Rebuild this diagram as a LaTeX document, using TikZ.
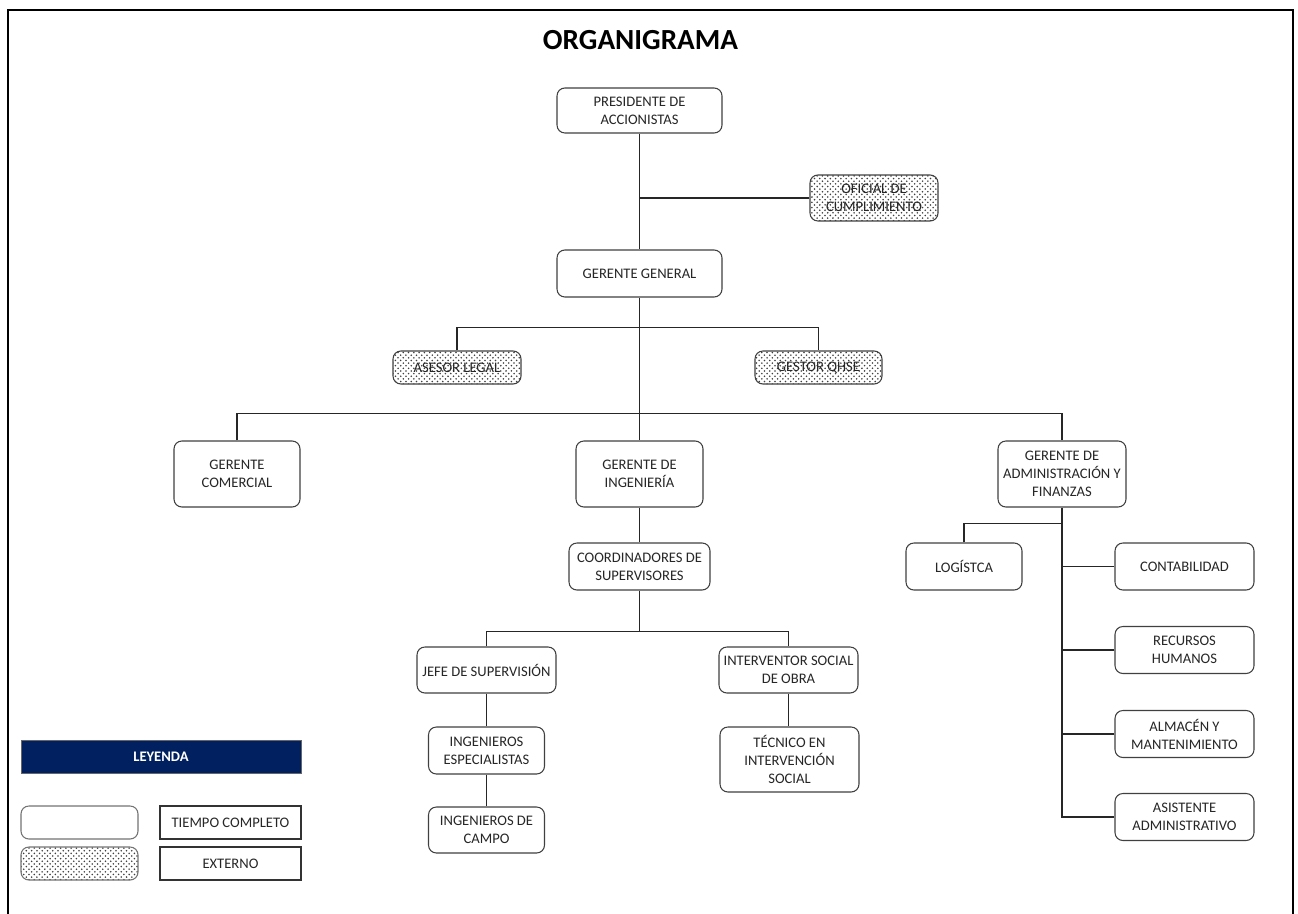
\documentclass[tikz,border=0pt]{standalone}
\usepackage{fontspec}
\setmainfont{Carlito}
\usepackage{tikz}
\usetikzlibrary{patterns}

\begin{document}
\begin{tikzpicture}[node distance=1cm]
  \tikzstyle{orgbox}=[rectangle,rounded corners=4.5pt,draw=black!75,line width=0.6pt,fill=white,align=center,text=black!85,font=\fontsize{8.3}{10.2}\selectfont,inner sep=1pt]
  \tikzstyle{extbox}=[orgbox,fill=none,pattern=crosshatch dots,pattern color=black!75]
  \tikzstyle{legbox}=[rectangle,draw=black!80,line width=0.6pt,align=center,text=black!85,font=\fontsize{8.3}{10.2}\selectfont,minimum width=2.82cm,minimum height=0.66cm]
  \tikzstyle{link}=[line width=0.7pt,black!85]

  \useasboundingbox (0,0) rectangle (25.96,-18.28);
  \draw[line width=1.3pt] (0.16,-18.4) -- (0.16,-0.2) -- (25.86,-0.2) -- (25.86,-18.4);

  \node[font=\fontsize{16.6}{20}\selectfont\bfseries] (title) at (12.81,-0.8) {ORGANIGRAMA};

  \node[orgbox,minimum width=3.3cm,minimum height=0.9cm] (npres) at (12.79,-2.21) {PRESIDENTE DE\\ACCIONISTAS};
  \node[orgbox,minimum width=3.3cm,minimum height=0.94cm,node distance=3.26cm,below of=npres] (ngg) {GERENTE GENERAL};
  \node[extbox,minimum width=2.56cm,minimum height=0.92cm,node distance=4.69cm,right of=npres,yshift=-1.75cm] (nofi) {OFICIAL DE\\CUMPLIMIENTO};

  \node[extbox,minimum width=2.56cm,minimum height=0.66cm,node distance=1.88cm,below of=ngg,xshift=-3.65cm] (nase) {ASESOR LEGAL};
  \node[extbox,minimum width=2.54cm,minimum height=0.66cm,node distance=1.88cm,below of=ngg,xshift=3.58cm] (nqhse) {GESTOR QHSE};

  \node[orgbox,minimum width=2.54cm,minimum height=1.32cm,node distance=4.01cm,below of=ngg] (ning) {GERENTE DE\\INGENIERÍA};
  \node[orgbox,minimum width=2.52cm,minimum height=1.32cm,node distance=8.05cm,left of=ning] (ncom) {GERENTE\\COMERCIAL};
  \node[orgbox,minimum width=2.56cm,minimum height=1.32cm,node distance=8.45cm,right of=ning] (naf) {GERENTE DE\\ADMINISTRACIÓN Y\\FINANZAS};

  % ingenieria
  \node[orgbox,minimum width=2.82cm,minimum height=0.94cm,node distance=1.85cm,below of=ning] (ncoord) {COORDINADORES DE\\SUPERVISORES};
  \node[orgbox,minimum width=2.78cm,minimum height=0.92cm,node distance=2.07cm,below of=ncoord,xshift=-3.06cm] (njefe) {JEFE DE SUPERVISIÓN};
  \node[orgbox,minimum width=2.78cm,minimum height=0.92cm,node distance=2.07cm,below of=ncoord,xshift=2.98cm] (nint) {INTERVENTOR SOCIAL\\DE OBRA};
  \node[orgbox,minimum width=2.32cm,minimum height=0.94cm,node distance=1.61cm,below of=njefe] (nesp) {INGENIEROS\\ESPECIALISTAS};
  \node[orgbox,minimum width=2.32cm,minimum height=0.92cm,node distance=1.59cm,below of=nesp] (ncam) {INGENIEROS DE\\CAMPO};
  \node[orgbox,minimum width=2.78cm,minimum height=1.3cm,node distance=1.79cm,below of=nint,xshift=0.02cm] (ntec) {TÉCNICO EN\\INTERVENCIÓN\\SOCIAL};

  % administracion
  \node[orgbox,minimum width=2.32cm,minimum height=0.94cm,node distance=1.85cm,below of=naf,xshift=-1.96cm] (nlog) {LOGÍSTCA};
  \node[orgbox,minimum width=2.78cm,minimum height=0.94cm,node distance=1.85cm,below of=naf,xshift=2.45cm] (ncont) {CONTABILIDAD};
  \node[orgbox,minimum width=2.78cm,minimum height=0.94cm,node distance=1.67cm,below of=ncont] (nrrhh) {RECURSOS\\HUMANOS};
  \node[orgbox,minimum width=2.78cm,minimum height=0.94cm,node distance=1.68cm,below of=nrrhh] (nalm) {ALMACÉN Y\\MANTENIMIENTO};
  \node[orgbox,minimum width=2.78cm,minimum height=0.94cm,node distance=1.66cm,below of=nalm] (nasis) {ASISTENTE\\ADMINISTRATIVO};

  % leyenda
  \node[rectangle,draw=black!60,fill={rgb,255:red,0;green,32;blue,96},text=white,font=\fontsize{8.3}{10.2}\selectfont\bfseries,minimum width=5.6cm,minimum height=0.66cm] (nley) at (3.22,-15.13) {LEYENDA};
  \node[orgbox,draw=black!55,minimum width=2.34cm,minimum height=0.66cm,node distance=1.32cm,below of=nley,xshift=-1.63cm] (lfull) {};
  \node[extbox,draw=black!55,minimum width=2.34cm,minimum height=0.66cm,node distance=0.82cm,below of=lfull] (lext) {};
  \node[legbox,node distance=3.02cm,right of=lfull] (ltc) {TIEMPO COMPLETO};
  \node[legbox,node distance=3.02cm,right of=lext] (lexto) {EXTERNO};

  % edges
  \coordinate (b1) at ([yshift=-0.6cm]ngg.south);
  \coordinate (b2) at ([yshift=-2.32cm]ngg.south);
  \coordinate (b3) at ([yshift=-0.82cm]ncoord.south);
  \coordinate (b4) at ([yshift=-0.32cm]naf.south);

  \draw[link] (npres) -- (ngg);
  \draw[link] (nofi.west) -- (nofi.west -| npres);
  \draw[link] (nase) |- (b1) -| (nqhse);
  \draw[link] (ngg) -- (ning);
  \draw[link] (ncom) |- (b2) -| (naf);
  \draw[link] (ning) -- (ncoord);
  \draw[link] (ncoord) -- (b3);
  \draw[link] (njefe) |- (b3) -| (nint);
  \draw[link] (njefe) -- (nesp);
  \draw[link] (nesp) -- (ncam);
  \draw[link] (nint.south) -- (nint.south |- ntec.north);
  \draw[link] (naf) |- (nasis);
  \draw[link] (nlog) |- (b4);
  \draw[link] (ncont.west) -- (ncont.west -| naf);
  \draw[link] (nrrhh.west) -- (nrrhh.west -| naf);
  \draw[link] (nalm.west) -- (nalm.west -| naf);

\end{tikzpicture}
\end{document}
